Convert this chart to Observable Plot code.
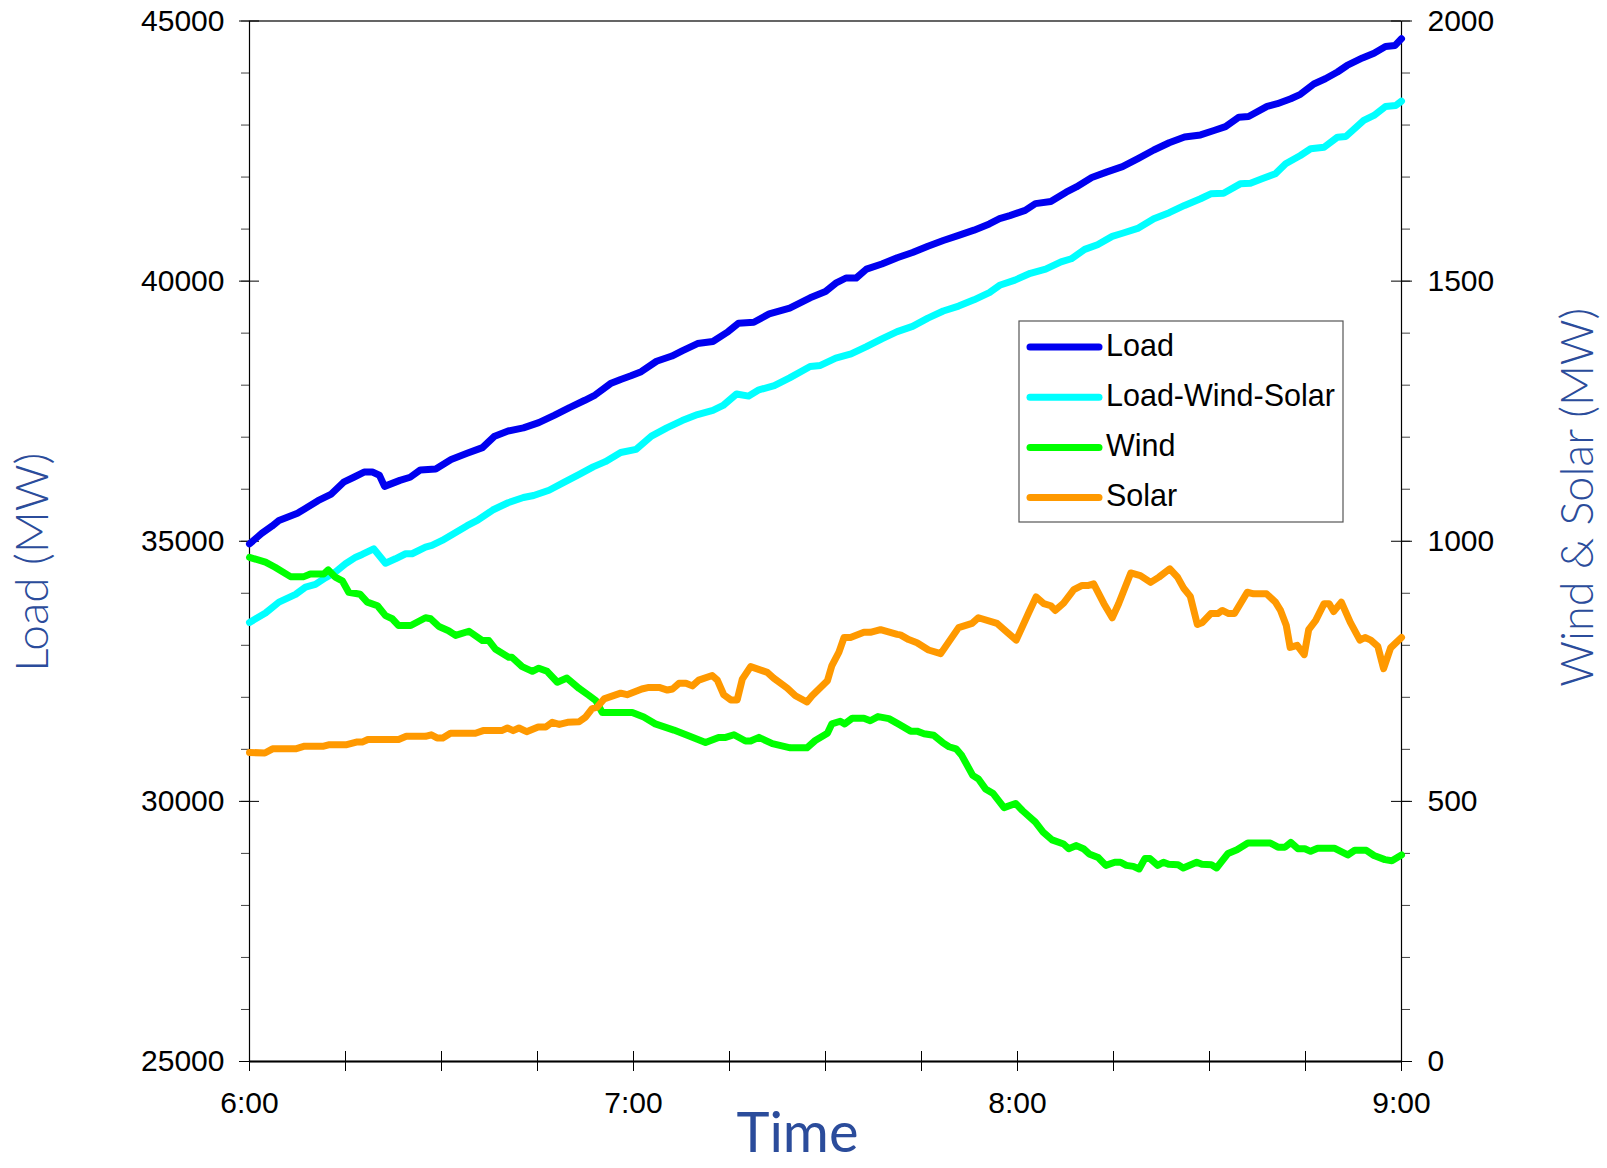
<!DOCTYPE html>
<html><head><meta charset="utf-8">
<script src="https://cdn.jsdelivr.net/npm/d3@7"></script>
<script src="https://cdn.jsdelivr.net/npm/@observablehq/plot@0.6"></script>
<style>
body{margin:0;background:#fff;}
#chart{position:relative;width:1607px;height:1168px;overflow:hidden;background:#fff;}
</style></head><body><div id="chart"></div>
<script>
// ---------- data ----------
const seriesNames = ["Load", "Load-Wind-Solar", "Wind", "Solar"];
const seriesColors = ["#0000f0", "#00ffff", "#00ff00", "#ff9900"];

// minutes after 6:00, MW (left axis)
const loadMin = [0,1.9,3.5,4.6,7.5,8.6,10.7,12.7,14.7,16.3,17.9,19.2,20.3,21.1,23.5,25.1,26.7,29.1,31.5,34,36.4,38.3,40.4,42.8,45.2,47.6,50,52.4,54,56.4,58,59.6,61.2,63.6,66,67.6,70,72.4,74.8,76.4,78.8,81.2,84.4,87.6,90,91.6,93.2,94.8,96.4,98.8,101.2,103.6,106,108.4,110.8,113.2,115.6,117.2,118.8,121.2,122.8,125.2,127.6,129.2,131.6,134,136.4,138.9,141.3,143.7,146.1,148.6,150.7,152.5,154.6,156.1,159,160.6,162.7,164.2,166.3,168.1,170,171.5,173.9,175.7,177.5,179,180];
const loadMW = [34950,35150,35290,35400,35540,35620,35780,35900,36135,36230,36330,36330,36270,36055,36170,36230,36370,36390,36570,36690,36800,37020,37120,37180,37280,37420,37570,37710,37810,38030,38110,38180,38260,38460,38560,38660,38800,38840,39030,39190,39210,39370,39480,39680,39800,39960,40060,40060,40230,40330,40450,40550,40670,40780,40880,40980,41100,41200,41260,41360,41490,41530,41710,41810,41990,42100,42200,42360,42520,42660,42770,42810,42895,42970,43150,43165,43360,43410,43505,43590,43790,43890,44020,44145,44290,44380,44510,44530,44660];

const netMin = [0,2.5,4.6,7.2,8.75,10.3,11.9,13.4,15,16.6,17.6,19.4,21.25,22.8,24.4,25.4,27.5,28.5,30.1,34,35.6,38,40.4,42.8,44.4,46.8,49.2,51.6,53.7,55.6,58,60.4,62.8,65.2,67.6,70,72.4,74,76.1,78,79.6,82,84.4,87.6,89.2,91.6,94,96.4,98.8,101.2,103.6,106,108.4,110.8,113.2,115.6,117.2,119.6,122,124.4,126.8,128.4,130.5,132.5,134.8,136.4,138.9,141.3,143.7,146.1,148.6,150.2,152.2,154.8,156.4,158.2,160.3,161.9,164.2,165.8,167.9,170,171.3,174.1,175.7,177.5,179.1,180];
const netMW = [33440,33620,33830,33978,34118,34170,34300,34406,34568,34694,34746,34855,34578,34663,34760,34760,34886,34920,35015,35300,35400,35600,35740,35840,35880,35980,36135,36290,36430,36530,36705,36765,37020,37180,37320,37435,37515,37610,37830,37790,37910,37990,38140,38360,38380,38520,38600,38740,38890,39030,39130,39290,39425,39520,39640,39780,39920,40020,40150,40230,40370,40430,40610,40700,40860,40920,41020,41200,41315,41455,41583,41679,41690,41870,41882,41967,42063,42255,42415,42544,42574,42767,42780,43088,43184,43357,43376,43459];

// minutes after 6:00, MW (right axis)
const windMin = [0,2.5,4,6.4,8.5,9.5,11.6,12.3,13.4,14.5,15.5,17.3,18.4,20,21.25,22.3,23.3,25.2,27.5,28.3,29.6,31.1,32.2,34.3,36.4,37.4,38.4,40.5,41,42.6,44.2,45.2,46.5,48.1,49.6,51.5,53,54.1,55.1,59.8,61.6,63.4,66.3,68.4,71.25,73.3,74.4,75.7,77.5,78.3,79.6,81.7,84.5,87.1,88.4,90.3,91,92.3,93,94.2,96,97,98.2,99.9,101.5,103.3,104.3,105.4,106.9,108.3,109.3,110.4,111.3,113,113.9,115,116.2,117.9,119.7,120.8,122.8,124,125.4,127.2,128,129.2,130.3,131.2,132.6,133.8,135.2,136.1,137,138.1,139,139.9,140.7,141.9,142.8,143.6,145.1,145.9,148,148.8,150.3,151.1,152.9,154.3,156,159.5,160.7,161.8,162.7,163.8,164.9,165.8,166.9,169.5,171.6,172.7,174.5,175.7,177.4,178.5,180];
const windMW = [969,960,950,932,932,937,937,945,931,924,902,898,883,876,857,851,838,838,853,851,836,828,819,827,809,809,793,777,777,759,750,756,750,729,737,717,704,694,671,671,662,649,637,627,613,623,623,628,616,616,623,611,603,603,617,631,649,654,649,660,660,655,663,659,648,635,635,630,627,613,605,601,588,550,543,524,515,488,496,482,460,441,426,418,409,415,409,399,392,377,383,383,377,375,370,390,390,377,383,379,378,372,383,379,378,372,400,407,420,420,412,412,421,409,409,404,410,410,397,406,406,396,388,386,397];

const solarMin = [0,2.4,3.6,7.2,8.6,11.6,12.5,15.2,16.7,17.6,18.5,23.3,24.5,27.5,28.4,29.3,30.2,31.4,35.3,36.5,39.4,40.3,41.2,42.1,43.3,45.1,46.3,47.3,48.4,49.7,51.5,52.5,53.5,54.3,55.4,58,59,61.3,62.4,64,65.3,66.1,67.1,68.2,69.2,70.2,72.3,73.1,74.1,75.2,76.2,77,78.3,80.9,81.9,84,85.3,87.1,87.9,90.3,91,92.1,92.9,93.9,96,97,98.6,101.2,101.7,103,104.3,106.1,108,110.8,112.9,113.9,116.8,118.4,119.8,121.8,122.9,124.1,125.2,125.9,127.2,128.8,130.1,131.1,131.9,133.5,134.8,135.8,137.7,139.2,140.8,142.1,143.8,145,146,147,148.1,148.9,150.2,151.3,152,153,153.9,155.9,156.9,158.9,160.3,161.1,162,162.6,163.7,164.8,165.5,166.6,167.9,168.7,169.4,170.6,172,173.5,174.3,175.2,176.3,177.2,178.3,180];
const solarMW = [594,593,601,601,606,606,609,609,614,614,619,619,625,625,628,622,622,631,631,636,636,641,636,641,634,643,643,652,648,652,653,662,678,681,697,708,705,716,719,719,714,716,727,727,722,733,742,733,705,695,695,735,759,748,737,718,703,691,703,732,761,787,815,815,825,825,830,821,820,811,805,791,784,834,842,853,842,825,810,864,893,880,876,867,881,907,915,915,918,880,853,880,939,934,921,931,947,931,909,894,840,844,861,861,867,861,861,902,899,899,883,867,838,796,800,782,830,848,880,880,865,883,844,810,815,810,798,755,795,815];

// axes
const leftDomain = [25000, 45000];
const rightDomain = [0, 2000];
const leftTicks = [25000, 30000, 35000, 40000, 45000];
const rightTicks = [0, 500, 1000, 1500, 2000];
const xTickMinutes = [0,15,30,45,60,75,90,105,120,135,150,165,180];
const xLabelMinutes = [0, 60, 120, 180];

// ---------- helpers ----------
const t0 = new Date(2020, 0, 1, 6, 0);
const at = m => new Date(t0.getTime() + m * 60000);
const k = (leftDomain[1] - leftDomain[0]) / (rightDomain[1] - rightDomain[0]);
const toLeft = v => leftDomain[0] + (v - rightDomain[0]) * k;
const fromLeft = v => rightDomain[0] + (v - leftDomain[0]) / k;
const zip = (ms, vs) => ms.map((m, i) => ({t: at(m), v: vs[i]}));

const loadData = zip(loadMin, loadMW);
const netData = zip(netMin, netMW);
const windData = zip(windMin, windMW).map(d => ({t: d.t, v: toLeft(d.v)}));
const solarData = zip(solarMin, solarMW).map(d => ({t: d.t, v: toLeft(d.v)}));

const leftMinor = d3.range(leftDomain[0], leftDomain[1] + 1, 1000);
const rightMinor = d3.range(rightDomain[0], rightDomain[1] + 1, 100).map(toLeft);

const W = 1607, H = 1168, mL = 249, mR = 206, mT = 20.5, mB = 107;
const innerW = W - mL - mR, innerH = H - mT - mB;
const titleColor = "#2b4c9b";
const titleFont = "Lato, 'Open Sans', sans-serif";

const lineOpts = (c) => ({x: "t", y: "v", stroke: c, strokeWidth: 7, strokeLinejoin: "round", strokeLinecap: "round"});

const chart = Plot.plot({
  width: W, height: H,
  marginLeft: mL, marginRight: mR, marginTop: mT, marginBottom: mB,
  style: {fontFamily: "'Liberation Sans', Arial, sans-serif", background: "white", overflow: "visible", color: "black"},
  x: {type: "time", domain: [at(0), at(180)]},
  y: {domain: leftDomain},
  marks: [
    Plot.axisY(leftMinor, {anchor: "left", tickSize: 8, tickFormat: () => "", stroke: "#444", label: null}),
    Plot.axisY(leftTicks, {anchor: "left", tickSize: 10, tickPadding: 15, fontSize: 30, tickFormat: d => String(d), label: null}),
    Plot.tickY(leftTicks, {y: d => d, insetRight: innerW - 10, stroke: "black"}),
    Plot.axisY(rightMinor, {anchor: "right", tickSize: 8, tickFormat: () => "", stroke: "#444", label: null}),
    Plot.axisY(rightTicks.map(toLeft), {anchor: "right", tickSize: 10, tickPadding: 16, fontSize: 30, tickFormat: d => String(Math.round(fromLeft(d))), label: null}),
    Plot.tickY(rightTicks.map(toLeft), {y: d => d, insetLeft: innerW - 10, stroke: "black"}),
    Plot.axisX(xTickMinutes.map(at), {anchor: "bottom", tickSize: 10, tickFormat: () => "", label: null}),
    Plot.axisX(xLabelMinutes.map(at), {anchor: "bottom", tickSize: 0, tickPadding: 30, fontSize: 30, tickFormat: d3.timeFormat("%-H:%M"), label: null}),
    Plot.tickX(xTickMinutes.map(at), {x: d => d, insetTop: innerH - 10, stroke: "black"}),
    Plot.frame({stroke: "black", strokeWidth: 1.2}),
    Plot.ruleY([leftDomain[0]], {stroke: "black", strokeWidth: 2.2}),
    Plot.line(loadData, lineOpts(seriesColors[0])),
    Plot.line(netData, lineOpts(seriesColors[1])),
    Plot.line(windData, lineOpts(seriesColors[2])),
    Plot.line(solarData, lineOpts(seriesColors[3])),
    Plot.text(["Load (MW)"], {frameAnchor: "left", textAnchor: "middle", lineAnchor: "middle", dx: -216, dy: 21, rotate: -90, fontSize: 46, fontWeight: 300, fontFamily: titleFont, fill: titleColor}),
    Plot.text(["Wind & Solar (MW)"], {frameAnchor: "right", textAnchor: "middle", lineAnchor: "middle", dx: 177, dy: -44, rotate: -90, fontSize: 45, fontWeight: 300, fontFamily: titleFont, fill: titleColor}),
    Plot.text(["Time"], {frameAnchor: "bottom", dx: -28, dy: 90, fontSize: 56, fontFamily: titleFont, fill: titleColor})
  ]
});
document.getElementById("chart").appendChild(chart);

// legend box
const svg = d3.select(chart);
const lg = svg.append("g").attr("class", "legend").attr("text-anchor", "start");
lg.append("rect").attr("x", 1019).attr("y", 321).attr("width", 324).attr("height", 201)
  .attr("fill", "white").attr("stroke", "#555").attr("stroke-width", 1.2);
seriesNames.forEach((name, i) => {
  const y = 347 + i * 50.2;
  lg.append("line").attr("x1", 1030).attr("x2", 1099).attr("y1", y).attr("y2", y)
    .attr("stroke", seriesColors[i]).attr("stroke-width", 7).attr("stroke-linecap", "round");
  lg.append("text").attr("x", 1106).attr("y", y - 2).attr("dy", "0.35em")
    .attr("text-anchor", "start")
    .attr("font-family", "'Liberation Sans', Arial, sans-serif").attr("font-size", 30.5)
    .attr("fill", "black").text(name);
});
</script></body></html>
